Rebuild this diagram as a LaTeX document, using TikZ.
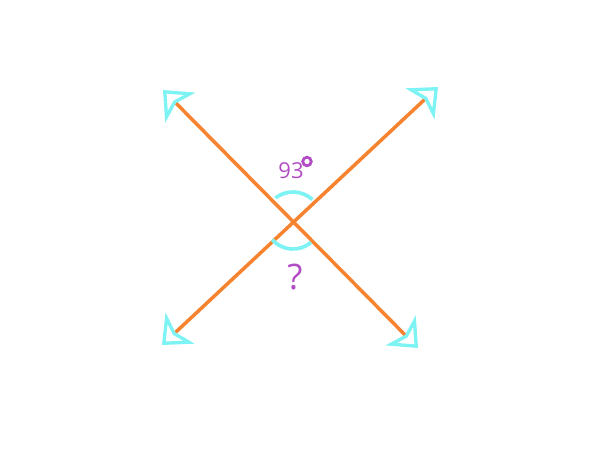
\documentclass[tikz,border=0pt]{standalone}
\usepackage{fontspec}
\setmainfont{Open Sans}
\usetikzlibrary{arrows.meta}
\definecolor{lineorange}{HTML}{F5832F}
\definecolor{tipcyan}{HTML}{7EF3F3}
\definecolor{labpurple}{HTML}{B24CC4}
\begin{document}
\begin{tikzpicture}
        [line width=2pt]
        \tikzstyle{every node}=[text=labpurple, inner sep=0pt]
        \tikzstyle{ray}=[draw=lineorange,
        {Stealth[open, length=14pt, width=24pt, inset=3.5pt, line width=1.9pt, color=tipcyan]}-{Stealth[open, length=14pt, width=24pt, inset=3.5pt, line width=1.9pt, color=tipcyan]}]
        \tikzstyle{mark arc}=[draw=tipcyan, line width=2.1pt]
        \useasboundingbox (0,0) rectangle (12,9);
        %-----ends
         \coordinate (O) at (5.86,4.58);
         \coordinate (TL) at (3.26,7.20);
         \coordinate (BR) at (8.36,2.04);
         \coordinate (BL) at (3.24,2.10);
         \coordinate (TR) at (8.76,7.26);
        %-----labels
         \node[font=\fontsize{12.5}{14}\selectfont] (given) at (5.82,5.59) {93};
         \node[circle, draw=labpurple, line width=1.6pt, minimum size=0.17cm] (deg) at (6.14,5.77) {};
         \node[font=\fontsize{20}{24}\selectfont] (ask) at (5.90,3.46) {?};

         \foreach \from/\to in {TL/BR,BL/TR}
         \draw[ray] (\from) -- (\to);

         \draw[mark arc] (O) ++(48:0.58) arc[start angle=48, end angle=127, radius=0.58];
         \draw[mark arc] (O) ++(222:0.56) arc[start angle=222, end angle=310, radius=0.56];

        \end{tikzpicture}
\end{document}
